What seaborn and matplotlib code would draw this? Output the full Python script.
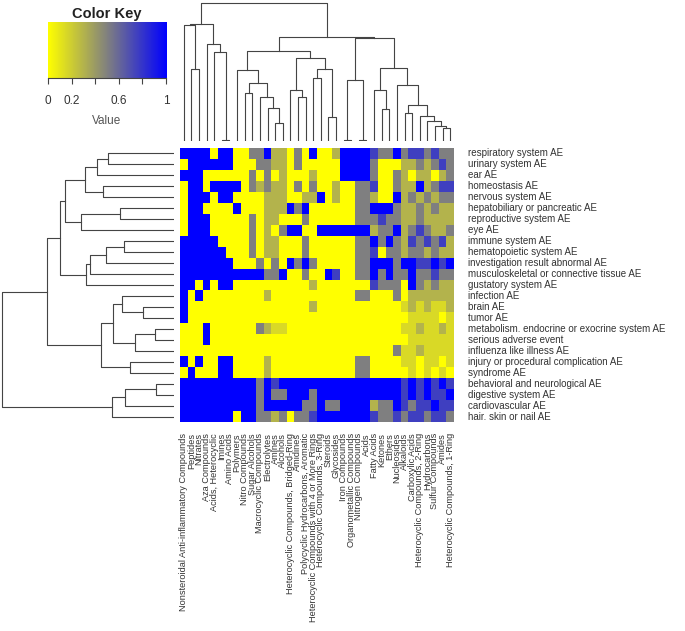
import numpy as np
import pandas as pd
import matplotlib
matplotlib.use('Agg')
import matplotlib.pyplot as plt
import seaborn as sns
from matplotlib.colors import LinearSegmentedColormap

# row / column names in the order shown by the clustered heatmap
row_names = [
    "respiratory system AE", "urinary system AE", "ear AE", "homeostasis AE",
    "nervous system AE", "hepatobiliary or pancreatic AE", "reproductive system AE",
    "eye AE", "immune system AE", "hematopoietic system AE",
    "investigation result abnormal AE", "musculoskeletal or connective tissue AE",
    "gustatory system AE", "infection AE", "brain AE", "tumor AE",
    "metabolism. endocrine or exocrine system AE", "serious adverse event",
    "influenza like illness AE", "injury or procedural complication AE",
    "syndrome AE", "behavioral and neurological AE", "digestive system AE",
    "cardiovascular AE", "hair. skin or nail AE",
]
col_names = [
    "Nonsteroidal Anti-inflammatory Compounds", "Peptides", "Nitrates",
    "Aza Compounds", "Acids, Heterocyclic", "Imines", "Amino Acids", "Polymers",
    "Nitro Compounds", "Sugar Alcohols", "Macrocyclic Compounds", "Electrolytes",
    "Amines", "Alcohols", "Heterocyclic Compounds, Bridged-Ring", "Amidines",
    "Polycyclic Hydrocarbons, Aromatic", "Heterocyclic Compounds with 4 or More Rings",
    "Heterocyclic Compounds, 3-Ring", "Steroids", "Glycosides", "Iron Compounds",
    "Organometallic Compounds", "Nitrogen Compounds", "Acids", "Fatty Acids",
    "Ketones", "Ethers", "Nucleosides", "Alkaloids", "Carboxylic Acids",
    "Heterocyclic Compounds, 2-Ring", "Hydrocarbons", "Sulfur Compounds", "Amides",
    "Heterocyclic Compounds, 1-Ring",
]

# cell values (0 = yellow, .5 = grey, 1 = blue)
values = [
    [1,1,1,1,0,1,1,0,0,.5,.5,1,.3,.3,0,.5,0,1,0,0,.3,1,1,1,1,.75,.5,.5,1,.5,.75,.75,.5,.75,.5,.5],
    [0,1,1,1,1,1,1,0,0,0,.5,.5,.3,.3,0,.5,0,0,0,0,0,1,1,1,1,.5,0,0,0,.3,.3,.5,.3,.5,.75,.5],
    [1,1,1,0,0,0,0,0,0,.5,0,.5,0,.3,0,0,0,.3,0,0,0,1,1,1,1,.5,0,0,.5,.3,0,.3,.3,0,.3,.5],
    [0,1,1,0,1,1,1,1,0,.5,.3,.5,.3,.3,0,.5,0,.5,0,0,.3,0,0,.5,.5,.75,0,0,.5,.3,.3,1,.3,.5,.75,.75],
    [0,1,1,1,0,1,1,0,0,0,0,.3,.3,.3,0,0,.3,.3,1,0,.3,0,0,.5,.5,.3,0,0,1,.3,.5,.3,.5,.3,.5,.5],
    [0,1,1,0,0,0,0,1,0,0,0,.3,.3,.3,1,.5,1,0,0,0,0,0,0,.5,.5,1,1,1,.5,.3,.3,.5,.3,.5,.3,.3],
    [0,1,1,1,0,0,0,0,0,.5,0,.3,.3,0,0,0,.5,0,0,0,0,0,0,.5,.5,.5,.75,.5,.5,.3,.3,.5,.3,.3,.3,.3],
    [0,1,1,1,0,0,0,0,0,.5,0,.3,0,.5,1,1,0,0,1,1,1,1,1,1,1,.3,.5,.5,1,.3,.5,.75,.5,.3,.3,.5],
    [1,1,1,1,1,0,0,0,0,.5,0,.3,.3,0,0,0,.5,0,0,0,0,0,0,.5,.5,1,.5,1,.5,.3,.75,.5,.75,.5,.75,.3],
    [1,1,1,1,1,1,0,0,0,.5,0,.3,.3,0,0,0,.5,0,0,0,0,0,0,.5,.5,.75,0,.5,.5,.3,.5,.5,.3,.5,.3,.3],
    [1,1,1,1,1,1,1,0,0,0,.5,0,.5,0,1,.5,1,.5,0,0,0,0,0,.5,.5,1,1,1,.5,1,1,.75,.75,1,.75,1],
    [1,1,1,1,1,1,1,1,1,1,1,.5,.5,1,0,0,.5,0,0,1,.75,0,0,.5,.5,1,.5,1,.5,.5,1,.5,.5,.75,.5,.5],
    [1,1,0,1,0,1,1,0,0,0,0,0,0,0,0,0,0,.3,0,0,0,0,0,0,0,.75,.5,.5,.5,0,1,.5,.3,.5,.3,.3],
    [1,0,1,0,0,0,0,0,0,0,0,.3,0,0,0,0,0,0,0,0,0,0,0,.5,.5,0,0,0,.5,0,.3,.3,.3,.3,.3,.3],
    [1,0,0,0,0,0,0,0,0,0,0,0,0,0,0,0,0,.3,0,0,0,0,0,0,0,0,0,0,0,.15,.3,.15,.3,.15,.15,.3],
    [1,0,0,0,0,0,0,0,0,0,0,0,0,0,0,0,0,0,0,0,0,0,0,0,0,0,0,0,0,0,.15,.15,.15,.15,0,.15],
    [0,0,0,1,0,0,0,0,0,0,.5,.3,.15,.15,0,0,0,0,0,0,0,0,0,0,0,0,0,0,0,.15,.15,.3,.15,.15,.3,.15],
    [0,0,0,1,0,0,0,0,0,0,0,0,0,0,0,0,0,0,0,0,0,0,0,0,0,0,0,0,0,0,.15,.15,.15,.15,.15,.15],
    [0,0,0,0,0,0,0,0,0,0,0,0,0,0,0,0,0,0,0,0,0,0,0,0,0,0,0,0,.5,.15,.15,.3,.15,.15,.15,.15],
    [1,0,1,0,0,1,1,0,0,0,0,.3,0,0,0,0,0,0,0,0,0,0,0,.5,.5,0,0,0,0,.15,.15,0,.15,.15,0,.15],
    [0,1,0,0,0,1,1,0,0,0,0,.3,0,0,0,0,0,0,0,0,0,0,0,.5,.5,0,0,0,0,0,.15,0,.15,0,.15,0],
    [1,1,1,1,1,1,1,1,1,1,.5,1,.75,1,1,1,1,1,1,1,1,1,1,1,1,1,1,1,1,.75,1,.75,1,.75,1,.75],
    [1,1,1,1,1,1,1,1,1,1,.5,1,.5,.5,1,1,1,.5,1,1,1,1,1,1,1,1,1,1,1,.75,1,.75,1,.75,.75,1],
    [1,1,1,1,1,1,1,1,1,1,.5,1,1,1,1,1,.5,.5,1,.5,.5,1,1,1,1,.3,.5,.5,1,.75,.5,.75,.75,1,.75,.75],
    [1,1,1,1,1,1,1,0,1,1,.5,.5,.3,.5,0,.5,.5,.75,1,1,1,1,1,1,1,.75,.5,.5,.75,.5,.75,.75,.5,.75,.75,.5],
]

# dendrogram merges (child a, child b, height); new clusters get ids n, n+1, ...
row_merges = [
    (0, 1, 197), (25, 2, 230), (3, 4, 213), (26, 27, 267), (5, 6, 160),
    (29, 7, 279), (28, 30, 327), (8, 9, 150), (32, 10, 204), (33, 11, 250),
    (34, 12, 262), (31, 35, 340), (14, 15, 93), (13, 37, 154), (16, 17, 58),
    (39, 18, 117), (38, 40, 182), (19, 20, 130), (41, 42, 217), (36, 43, 380),
    (21, 22, 55), (45, 23, 145), (46, 24, 185), (44, 47, 515),
]
col_merges = [
    (5, 6, 2), (4, 36, 268), (3, 37, 292), (1, 2, 217), (0, 39, 348),
    (40, 38, 350), (12, 13, 55), (11, 42, 100), (10, 43, 133), (8, 9, 145),
    (45, 44, 175), (7, 46, 213), (15, 16, 133), (14, 48, 153), (17, 18, 190),
    (19, 20, 73), (50, 51, 215), (49, 52, 250), (47, 53, 270), (21, 22, 2),
    (23, 24, 2), (55, 56, 182), (26, 27, 95), (25, 58, 152), (34, 35, 38),
    (33, 60, 45), (32, 61, 60), (31, 62, 75), (29, 30, 83), (64, 63, 108),
    (28, 65, 167), (59, 66, 220), (57, 67, 308), (54, 68, 313), (41, 69, 415),
]

key_ticks = [0, 0.2, 0.6, 1]
key_minor = [0.4, 0.8]

plt.rcParams['font.family'] = ['Liberation Sans', 'DejaVu Sans']
text_col = '#333333'
line_col = '#444444'

cmap = LinearSegmentedColormap.from_list('ygb', ['#ffff00', '#808080', '#0000ff'])

W, H = 685, 631
fig = plt.figure(figsize=(W / 100, H / 100), dpi=100)


def box(x0, y0, x1, y1):
    # pixel box (from top-left) -> figure fraction
    return [x0 / W, 1 - y1 / H, (x1 - x0) / W, (y1 - y0) / H]


def draw_dendro(ax, merges, n, side):
    pos = {i: i + 0.5 for i in range(n)}
    hgt = {i: 0.0 for i in range(n)}
    for k, (a, b, h) in enumerate(merges):
        pa, pb, ha, hb = pos[a], pos[b], hgt[a], hgt[b]
        if side == 'top':
            ax.plot([pa, pa, pb, pb], [ha, h, h, hb], color=line_col, lw=0.8)
        else:
            ax.plot([ha, h, h, hb], [pa, pa, pb, pb], color=line_col, lw=0.8)
        pos[n + k] = (pa + pb) / 2
        hgt[n + k] = h


# heatmap
df = pd.DataFrame(values, index=row_names, columns=col_names)
ax_hm = fig.add_axes(box(180, 148, 454, 422))
sns.heatmap(df, ax=ax_hm, cmap=cmap, vmin=0, vmax=1, cbar=False,
            xticklabels=True, yticklabels=True)
ax_hm.yaxis.tick_right()
ax_hm.tick_params(axis='y', length=0, pad=10, labelsize=7, labelcolor=text_col)
ax_hm.tick_params(axis='x', length=0, pad=8, labelsize=6.6, labelcolor=text_col)
plt.setp(ax_hm.get_yticklabels(), rotation=0, ha='left', va='center')
plt.setp(ax_hm.get_xticklabels(), rotation=90, ha='center', va='top')
ax_hm.set_xlabel('')
ax_hm.set_ylabel('')

# column dendrogram
ax_cd = fig.add_axes(box(180, 2, 454, 141))
draw_dendro(ax_cd, col_merges, len(col_names), 'top')
ax_cd.set_xlim(0, len(col_names))
ax_cd.set_ylim(0, 417)
ax_cd.axis('off')

# row dendrogram
ax_rd = fig.add_axes(box(1, 148, 174, 422))
draw_dendro(ax_rd, row_merges, len(row_names), 'left')
ax_rd.set_ylim(len(row_names), 0)
ax_rd.set_xlim(517, 0)
ax_rd.axis('off')

# color key
ax_key = fig.add_axes(box(48, 22, 166, 78))
ax_key.imshow(np.linspace(0, 1, 256)[None, :], aspect='auto', cmap=cmap,
              extent=[0, 1, 0, 1])
ax_key.set_xlim(0, 1)
ax_key.set_yticks([])
ax_key.set_xticks(key_ticks)
ax_key.set_xticklabels([f'{t:g}' for t in key_ticks])
ax_key.set_xticks(key_minor, minor=True)
ax_key.tick_params(axis='x', which='both', direction='out', length=4,
                   width=0.8, color=line_col, labelsize=8.5, labelcolor=text_col, pad=8)
for s in ['top', 'left', 'right']:
    ax_key.spines[s].set_visible(False)
ax_key.spines['bottom'].set_color(line_col)
ax_key.set_title('Color Key', fontsize=10.5, fontweight='bold', color='#222222', pad=3)
ax_key.set_xlabel('Value', fontsize=8.5, color='#555555', labelpad=6)

fig.savefig('out.png', dpi=100, facecolor='white')
